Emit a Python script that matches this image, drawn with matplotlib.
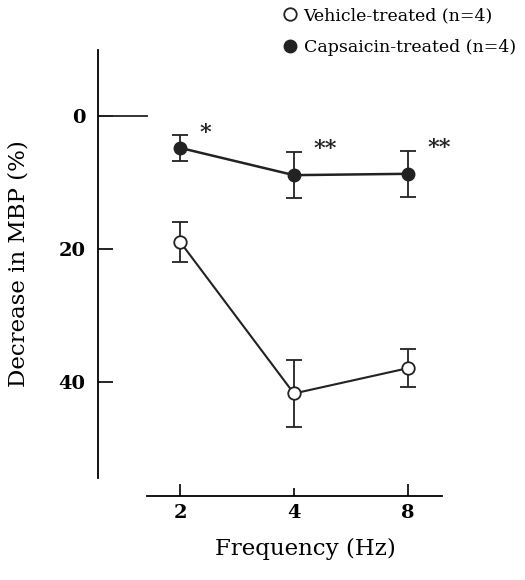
import numpy as np
import matplotlib
matplotlib.use("Agg")
import matplotlib.pyplot as plt
from matplotlib.lines import Line2D

# data
freq_hz = [2, 4, 8]
freq_labels = ["2", "4", "8"]
vehicle_mean = [18.9, 41.7, 37.9]
vehicle_err = [3.0, 5.0, 2.9]
capsaicin_mean = [4.8, 8.9, 8.7]
capsaicin_err = [1.9, 3.5, 3.5]
capsaicin_sig = ["*", "**", "**"]

plt.rcParams["font.family"] = ["DejaVu Serif"]

fig = plt.figure(figsize=(5.25, 5.8), dpi=100)
ax = fig.add_axes([98 / 525, 1 - 496 / 580, (442 - 98) / 525, (496 - 50) / 580])

x = np.log2(freq_hz)

ax.errorbar(x, vehicle_mean, yerr=vehicle_err, color="#222222", lw=1.5,
            marker="o", ms=9, mfc="white", mec="#222222", mew=1.3,
            capsize=6, elinewidth=1.3, capthick=1.3)
ax.errorbar(x, capsaicin_mean, yerr=capsaicin_err, color="#222222", lw=1.8,
            marker="o", ms=9, mfc="#222222", mec="#222222",
            capsize=6, elinewidth=1.3, capthick=1.3)

for xi, m, e, s in zip(x, capsaicin_mean, capsaicin_err, capsaicin_sig):
    ax.annotate(s, (xi, m - e), xytext=(14, -6), textcoords="offset points",
                ha="left", va="bottom", fontsize=16, fontweight="bold",
                color="#222222")

ax.set_xlim(0.28, 3.30)
ax.set_ylim(57.1, -9.9)
ax.set_xticks(x)
ax.set_xticklabels(freq_labels)
ax.set_yticks([0, 20, 40])

for side in ["top", "right"]:
    ax.spines[side].set_visible(False)
ax.spines["left"].set_bounds(-9.9, 54.4)
ax.spines["bottom"].set_bounds(0.71, 3.30)
ax.spines["left"].set_linewidth(1.3)
ax.spines["bottom"].set_linewidth(1.3)

ax.tick_params(axis="y", direction="in", length=11, width=1.2, pad=9,
               labelsize=14)
ax.tick_params(axis="x", direction="in", length=9, width=1.2, pad=6,
               labelsize=14)
for lab in ax.get_xticklabels() + ax.get_yticklabels():
    lab.set_fontweight("bold")
ax.xaxis.get_major_ticks()[1].tick1line.set_markersize(6)

# long line at zero
ax.axhline(0, xmin=0, xmax=(147 - 98) / (442 - 98), color="#222222", lw=1.3)

ax.set_ylabel("Decrease in MBP (%)", fontsize=16.5)
ax.yaxis.set_label_coords(-0.2, 0.52)
ax.set_xlabel("Frequency (Hz)", fontsize=16.5)
ax.xaxis.set_label_coords((305 - 98) / (442 - 98), -0.095)

handles = [
    Line2D([], [], ls="none", marker="o", ms=9, mfc="white",
           mec="#222222", mew=1.3),
    Line2D([], [], ls="none", marker="o", ms=9, mfc="#222222",
           mec="#222222"),
]
fig.legend(handles, ["Vehicle-treated (n=4)", "Capsaicin-treated (n=4)"],
           loc="upper left", bbox_to_anchor=(274 / 525, 1.0),
           frameon=False, borderaxespad=0, fontsize=12.5, handlelength=1.0,
           handletextpad=0.3, labelspacing=0.85)

fig.savefig("out.png", dpi=100)
